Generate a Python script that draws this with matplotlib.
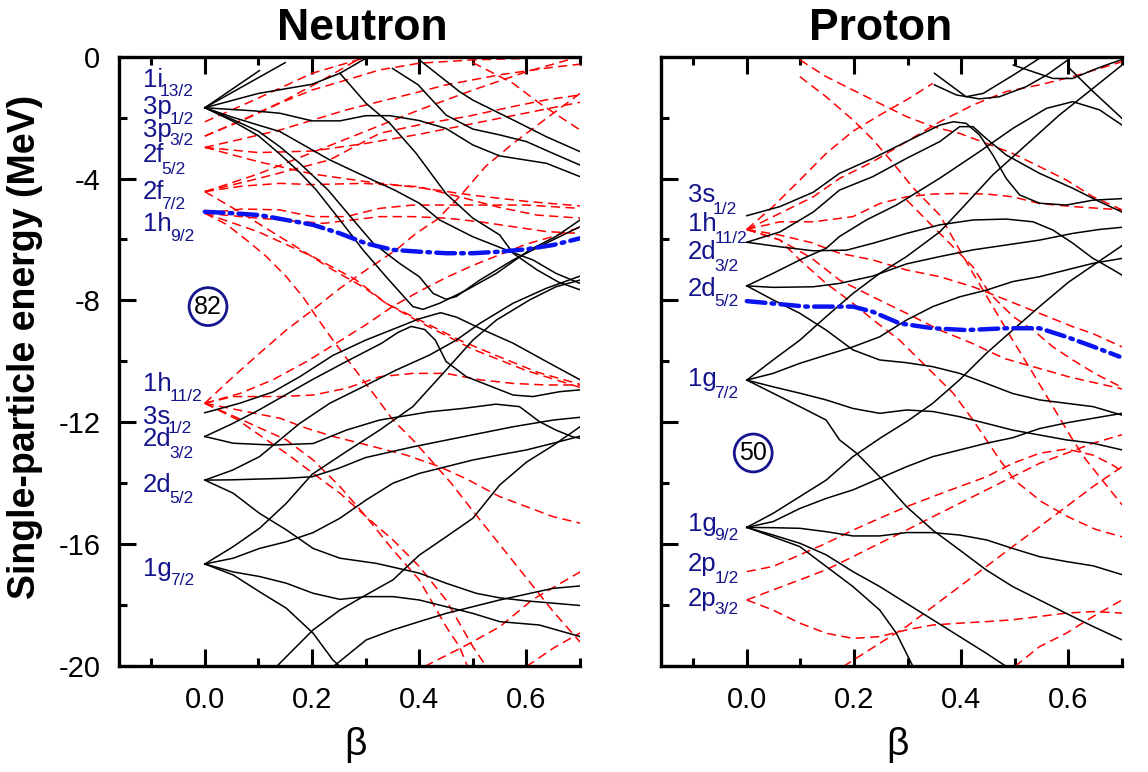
import matplotlib
matplotlib.use('Agg')
import matplotlib.pyplot as plt

plt.rcParams['font.family'] = ['Liberation Sans', 'DejaVu Sans']

NAVY = '#14148c'

# ---------------- neutron, positive parity (black) ----------------
n_pos = [
    [(0, -1.68), (0.102, -0.46)],
    [(0, -1.68), (0.15, -0.2)],
    [(0, -1.68), (0.1, -1.21), (0.2, -0.91), (0.252, -0.55), (0.3, -0.06)],
    [(0.252, -0.55), (0.301, -1.54), (0.345, -2.19), (0.394, -3.17), (0.45, -4.5), (0.5, -5.3),
     (0.55, -5.85), (0.575, -6.45), (0.62, -7.0), (0.66, -7.4), (0.7, -7.65)],
    [(0, -1.68), (0.09, -1.78), (0.14, -1.86), (0.2, -2.11), (0.252, -2.11), (0.3, -1.94), (0.345, -1.94),
     (0.4, -2.1), (0.45, -2.36), (0.5, -2.9), (0.55, -3.26), (0.637, -3.5), (0.7, -3.94)],
    [(0.35, -0.39), (0.398, -0.93), (0.45, -1.92), (0.5, -2.38), (0.55, -2.57), (0.6, -2.79),
     (0.65, -3.18), (0.7, -3.56)],
    [(0.4, -0.11), (0.475, -1.15), (0.5, -1.43), (0.575, -2.08), (0.637, -2.63), (0.7, -3.12)],
    [(0, -1.68), (0.05, -1.98), (0.1, -2.25), (0.14, -2.46), (0.233, -3.39), (0.313, -4.05), (0.354, -4.38),
     (0.4, -4.81), (0.438, -5.36), (0.5, -5.91), (0.575, -6.43), (0.612, -6.67), (0.655, -7.11), (0.7, -7.44)],
    [(0, -1.68), (0.05, -2.1), (0.1, -2.6), (0.14, -3.2), (0.177, -3.8), (0.208, -4.38), (0.252, -5.36),
     (0.295, -6.34), (0.338, -7.22), (0.388, -8.2), (0.407, -8.29), (0.438, -8.09), (0.488, -7.66),
     (0.544, -7.11), (0.606, -6.34), (0.655, -5.9), (0.7, -5.36)],
    [(0, -1.68), (0.05, -2.05), (0.1, -2.45), (0.14, -2.96), (0.177, -3.5), (0.23, -4.38), (0.277, -5.36),
     (0.314, -6.12), (0.363, -6.78), (0.4, -7.22), (0.426, -7.77), (0.45, -7.96), (0.469, -7.87),
     (0.513, -7.33), (0.575, -6.67), (0.637, -6.12), (0.7, -5.58)],
    [(0, -11.68), (0.065, -11.37), (0.127, -11.0), (0.177, -10.5), (0.239, -9.8), (0.3, -9.3), (0.35, -8.95),
     (0.4, -8.6), (0.44, -8.4), (0.47, -8.55), (0.52, -8.97), (0.575, -9.4), (0.637, -10.0), (0.7, -10.6)],
    [(0, -12.46), (0.05, -12.05), (0.1, -11.6), (0.14, -11.2), (0.2, -10.6), (0.264, -10.0), (0.33, -9.4),
     (0.36, -9.05), (0.385, -8.85), (0.41, -8.95), (0.43, -9.3), (0.45, -10.0), (0.488, -10.5),
     (0.575, -11.1), (0.612, -11.15), (0.662, -10.99), (0.7, -10.93)],
    [(0, -12.46), (0.053, -12.68), (0.127, -12.74), (0.202, -12.69), (0.264, -12.25), (0.326, -11.92),
     (0.419, -11.65), (0.481, -11.54), (0.543, -11.4), (0.587, -11.48), (0.624, -11.97), (0.655, -12.25),
     (0.686, -12.47), (0.7, -12.52)],
    [(0, -13.89), (0.05, -13.88), (0.15, -13.83), (0.2, -13.78), (0.25, -13.5), (0.3, -13.15), (0.388, -12.8),
     (0.481, -12.47), (0.575, -12.14), (0.65, -11.92), (0.7, -11.83)],
    [(0, -13.89), (0.052, -13.56), (0.102, -13.12), (0.14, -12.57), (0.177, -12.03), (0.233, -11.37),
     (0.295, -10.83), (0.357, -10.28), (0.419, -9.79), (0.469, -9.3), (0.513, -8.75), (0.575, -8.09),
     (0.637, -7.6), (0.7, -7.2)],
    [(0, -13.89), (0.053, -14.32), (0.102, -14.98), (0.152, -15.52), (0.202, -16.13), (0.252, -16.45),
     (0.32, -16.62), (0.4, -16.94), (0.45, -17.27), (0.506, -17.6), (0.55, -17.75), (0.6, -17.85), (0.7, -18.0)],
    [(0, -16.64), (0.053, -16.07), (0.102, -15.47), (0.152, -14.65), (0.2, -13.7), (0.26, -13.0),
     (0.326, -12.25), (0.388, -11.48), (0.45, -10.28), (0.5, -9.3), (0.544, -8.64), (0.606, -7.98),
     (0.655, -7.55), (0.7, -7.33)],
    [(0, -16.64), (0.053, -16.45), (0.102, -16.13), (0.152, -15.91), (0.202, -15.61), (0.252, -15.14),
     (0.301, -14.54), (0.351, -13.99), (0.4, -13.67), (0.45, -13.45), (0.5, -13.23), (0.55, -13.06),
     (0.6, -12.9), (0.65, -12.68), (0.7, -12.45)],
    [(0, -16.64), (0.053, -16.9), (0.102, -17.05), (0.152, -17.27), (0.202, -17.6), (0.252, -17.8),
     (0.301, -17.71), (0.351, -17.71), (0.4, -17.82), (0.45, -18.04), (0.5, -18.26), (0.55, -18.53),
     (0.624, -18.64), (0.7, -19.02)],
    [(0, -16.64), (0.053, -17.0), (0.102, -17.55), (0.152, -18.09), (0.202, -18.91), (0.239, -19.79), (0.252, -20.0)],
    [(0.134, -20), (0.152, -19.68), (0.202, -18.8), (0.252, -18.15), (0.295, -17.71), (0.351, -17.16),
     (0.4, -16.35), (0.45, -15.75), (0.5, -15.14), (0.55, -14.05), (0.6, -13.3), (0.65, -12.75), (0.7, -12.14)],
    [(0.24, -20), (0.301, -19.13), (0.351, -18.8), (0.4, -18.53), (0.45, -18.26), (0.5, -18.04),
     (0.55, -17.82), (0.649, -17.44), (0.7, -17.36)],
]

# ---------------- neutron, negative parity (red dashed) ----------------
n_neg = [
    [(0, -2.14), (0.07, -1.6), (0.14, -1.04), (0.2, -0.55), (0.295, -0.06)],
    [(0, -2.61), (0.08, -2.0), (0.15, -1.43), (0.22, -0.77), (0.295, 0.0)],
    [(0, -2.61), (0.07, -2.1), (0.14, -1.53), (0.2, -1.1), (0.264, -0.77), (0.326, -0.44), (0.4, -0.22),
     (0.5, -0.11), (0.6, -0.06), (0.7, 0.0)],
    [(0, -2.98), (0.07, -2.7), (0.14, -2.41), (0.264, -1.75), (0.388, -1.21), (0.45, -0.93), (0.55, -0.6),
     (0.65, -0.35), (0.7, -0.25)],
    [(0, -2.98), (0.1, -3.15), (0.2, -3.1), (0.3, -2.85), (0.4, -2.55), (0.5, -2.2), (0.6, -1.85), (0.7, -1.5)],
    [(0, -2.98), (0.1, -3.45), (0.2, -3.85), (0.3, -4.1), (0.4, -4.3), (0.5, -4.55), (0.6, -4.75), (0.7, -4.9)],
    [(0, -4.43), (0.1, -3.85), (0.2, -3.15), (0.3, -2.45), (0.4, -1.75), (0.5, -1.1), (0.6, -0.5), (0.7, 0.0)],
    [(0, -4.43), (0.1, -4.0), (0.233, -3.39), (0.326, -2.52), (0.413, -2.19), (0.488, -1.97), (0.575, -1.64),
     (0.637, -1.42), (0.7, -1.26)],
    [(0, -4.43), (0.07, -4.25), (0.14, -4.16), (0.2, -4.2), (0.295, -4.16), (0.4, -4.27), (0.475, -4.6),
     (0.55, -4.95), (0.62, -5.2), (0.7, -5.3)],
    [(0, -4.43), (0.07, -5.15), (0.14, -5.91), (0.19, -6.45), (0.239, -7.0), (0.295, -7.55), (0.338, -8.09),
     (0.388, -8.53), (0.438, -8.97), (0.475, -9.3), (0.55, -9.85), (0.62, -10.35), (0.7, -10.75)],
    [(0, -5.14), (0.07, -5.0), (0.14, -5.03), (0.2, -5.25), (0.264, -5.25), (0.326, -4.98), (0.388, -4.87),
     (0.5, -4.87), (0.6, -4.87), (0.7, -4.98)],
    [(0, -5.14), (0.1, -5.3), (0.221, -5.47), (0.276, -5.36), (0.326, -5.25), (0.388, -5.25), (0.45, -5.3),
     (0.513, -5.42), (0.575, -5.58), (0.637, -5.74), (0.7, -5.8)],
    [(0, -5.14), (0.04, -5.5), (0.078, -6.02), (0.115, -6.56), (0.152, -7.22), (0.183, -7.88), (0.208, -8.53),
     (0.239, -9.3), (0.276, -10.17), (0.314, -11.04), (0.351, -11.92), (0.388, -12.57), (0.425, -13.3),
     (0.46, -14.0), (0.5, -14.9), (0.55, -16.0), (0.6, -17.1), (0.65, -18.2), (0.7, -19.2)],
    [(0, -5.14), (0.1, -5.75), (0.2, -6.55), (0.28, -7.3), (0.339, -8.1), (0.4, -8.7), (0.5, -9.6),
     (0.6, -10.3), (0.7, -10.85)],
    [(0.5, -0.2), (0.575, -0.88), (0.624, -1.53), (0.7, -2.41)],
    [(0, -11.37), (0.053, -10.5), (0.102, -9.73), (0.152, -8.97), (0.202, -8.3), (0.252, -7.6), (0.301, -7.0),
     (0.357, -6.34), (0.394, -5.8), (0.432, -5.36), (0.475, -4.6), (0.524, -3.6), (0.575, -2.85),
     (0.65, -1.86), (0.7, -1.21)],
    [(0, -11.37), (0.065, -11.05), (0.127, -10.6), (0.19, -10.0), (0.25, -9.35), (0.3, -8.8), (0.35, -8.2),
     (0.4, -7.7), (0.45, -7.25), (0.5, -6.85), (0.55, -6.5), (0.6, -6.15), (0.65, -5.9), (0.7, -5.6)],
    [(0, -11.37), (0.053, -11.15), (0.14, -11.15), (0.202, -11.1), (0.264, -10.88), (0.326, -10.5),
     (0.388, -10.39), (0.45, -10.39), (0.513, -10.6), (0.575, -10.72), (0.637, -10.77), (0.7, -10.77)],
    [(0, -11.37), (0.065, -11.6), (0.14, -11.86), (0.19, -12.19), (0.24, -12.46), (0.314, -12.79),
     (0.376, -13.07), (0.438, -13.45), (0.488, -13.85), (0.55, -14.43), (0.6, -14.76), (0.65, -15.09), (0.7, -15.3)],
    [(0, -11.37), (0.06, -11.9), (0.115, -12.57), (0.152, -13.01), (0.202, -13.67), (0.252, -14.32),
     (0.301, -15.09), (0.351, -15.85), (0.4, -16.72), (0.45, -17.82), (0.5, -19.35), (0.525, -20)],
    [(0, -11.37), (0.08, -12.0), (0.152, -12.57), (0.202, -13.23), (0.252, -14.1), (0.301, -15.09),
     (0.351, -16.18), (0.4, -17.16), (0.45, -18.69), (0.475, -19.35), (0.49, -20)],
    [(0.41, -20), (0.488, -19.3), (0.55, -18.7), (0.612, -17.8), (0.7, -16.9)],
    [(0.6, -20), (0.65, -19.4), (0.7, -18.9)],
]

n_blue = [(0, -5.09), (0.053, -5.14), (0.102, -5.2), (0.152, -5.36), (0.202, -5.52), (0.252, -5.8),
          (0.301, -6.13), (0.351, -6.34), (0.4, -6.4), (0.45, -6.45), (0.5, -6.45), (0.55, -6.4),
          (0.6, -6.32), (0.65, -6.18), (0.7, -5.96)]

# ---------------- proton, positive parity (black) ----------------
p_pos = [
    [(0, -5.22), (0.062, -4.92), (0.124, -4.45), (0.173, -3.83), (0.235, -3.34), (0.298, -2.79), (0.36, -2.25),
     (0.385, -2.14), (0.409, -2.19), (0.434, -2.57), (0.459, -3.23), (0.484, -4.0), (0.509, -4.54),
     (0.546, -4.81), (0.596, -4.87), (0.646, -4.71), (0.7, -4.66)],
    [(0, -6.09), (0.062, -5.75), (0.124, -5.1), (0.173, -4.38), (0.235, -3.94), (0.298, -3.34), (0.36, -2.79),
     (0.397, -2.3), (0.422, -2.3), (0.446, -2.68), (0.484, -3.23), (0.546, -3.83), (0.608, -4.32),
     (0.658, -4.76), (0.7, -5.1)],
    [(0, -6.09), (0.062, -6.24), (0.124, -6.37), (0.186, -6.35), (0.236, -6.12), (0.298, -5.8), (0.36, -5.52),
     (0.422, -5.36), (0.484, -5.33), (0.534, -5.42), (0.571, -5.69), (0.608, -6.12), (0.645, -6.61),
     (0.683, -6.99), (0.7, -7.17)],
    [(0, -7.52), (0.049, -7.57), (0.124, -7.55), (0.173, -7.44), (0.235, -7.2), (0.298, -6.8), (0.36, -6.56),
     (0.422, -6.34), (0.484, -6.18), (0.546, -6.02), (0.608, -5.8), (0.658, -5.67), (0.7, -5.6)],
    [(0, -7.52), (0.049, -7.11), (0.099, -6.67), (0.148, -6.29), (0.173, -5.9), (0.223, -5.36), (0.279, -4.87),
     (0.36, -3.99), (0.434, -3.12), (0.497, -2.35), (0.559, -1.7), (0.608, -1.48), (0.658, -1.75), (0.7, -2.25)],
    [(0, -7.52), (0.049, -7.98), (0.099, -8.42), (0.148, -8.97), (0.198, -9.62), (0.248, -9.95), (0.298, -10.04),
     (0.347, -10.17), (0.397, -10.39), (0.447, -10.72), (0.496, -11.05), (0.546, -11.26), (0.596, -11.37),
     (0.646, -11.48), (0.7, -11.76)],
    [(0, -10.61), (0.049, -9.95), (0.099, -9.3), (0.148, -8.53), (0.198, -7.77), (0.248, -7.11), (0.298, -6.56),
     (0.36, -5.75), (0.4, -5.0), (0.459, -3.88), (0.521, -2.9), (0.583, -1.92), (0.646, -1.04), (0.7, -0.28)],
    [(0, -10.61), (0.049, -10.39), (0.099, -10.06), (0.148, -9.79), (0.198, -9.52), (0.248, -9.19),
     (0.298, -8.64), (0.347, -8.2), (0.397, -7.88), (0.447, -7.66), (0.496, -7.38), (0.546, -7.22),
     (0.596, -7.0), (0.646, -6.78), (0.7, -6.62)],
    [(0, -10.61), (0.049, -10.83), (0.099, -11.04), (0.148, -11.26), (0.198, -11.54), (0.248, -11.7),
     (0.298, -11.59), (0.347, -11.64), (0.397, -11.81), (0.447, -12.03), (0.496, -12.25), (0.546, -12.41),
     (0.596, -12.57), (0.646, -12.68), (0.7, -12.9)],
    [(0, -10.61), (0.049, -11.04), (0.099, -11.48), (0.148, -11.92), (0.173, -12.57), (0.205, -13.01),
     (0.248, -13.78), (0.298, -14.76), (0.347, -15.53), (0.397, -16.18), (0.447, -16.84), (0.496, -17.38),
     (0.546, -17.82), (0.596, -18.26), (0.646, -18.69), (0.7, -19.13)],
    [(0, -15.44), (0.049, -14.98), (0.099, -14.43), (0.148, -13.89), (0.198, -13.12), (0.25, -12.5),
     (0.3, -11.95), (0.347, -11.37), (0.397, -10.6), (0.447, -9.73), (0.496, -8.97), (0.546, -8.2),
     (0.6, -7.4), (0.65, -6.8), (0.7, -6.2)],
    [(0, -15.44), (0.049, -15.25), (0.099, -14.82), (0.148, -14.49), (0.198, -14.21), (0.248, -13.83),
     (0.298, -13.45), (0.347, -13.12), (0.397, -12.9), (0.447, -12.68), (0.496, -12.5), (0.546, -12.2),
     (0.6, -12.0), (0.7, -11.7)],
    [(0, -15.44), (0.049, -15.45), (0.099, -15.47), (0.148, -15.58), (0.198, -15.72), (0.248, -15.72),
     (0.298, -15.61), (0.347, -15.61), (0.397, -15.69), (0.447, -15.85), (0.496, -16.13), (0.546, -16.4),
     (0.596, -16.56), (0.646, -16.7), (0.7, -16.99)],
    [(0, -15.44), (0.049, -15.69), (0.099, -15.96), (0.148, -16.34), (0.198, -16.89), (0.248, -17.38),
     (0.298, -17.93), (0.347, -18.47), (0.397, -19.02), (0.447, -19.57), (0.484, -20.0)],
    [(0, -15.44), (0.049, -15.75), (0.099, -16.07), (0.148, -16.72), (0.198, -17.38), (0.248, -18.15),
     (0.279, -18.91), (0.304, -19.79), (0.31, -20.0)],
    [(0.35, -0.55), (0.409, -1.32), (0.441, -1.21), (0.497, -0.61), (0.546, -0.06)],
    [(0.35, -0.93), (0.391, -1.26), (0.434, -1.39), (0.471, -1.32), (0.521, -0.99), (0.56, -0.6), (0.6, -0.1)],
    [(0.497, -0.28), (0.571, -0.72), (0.608, -0.72), (0.646, -0.44), (0.67, -0.28), (0.7, -0.1)],
    [(0.602, -0.39), (0.646, -1.15), (0.7, -2.03)],
]

# ---------------- proton, negative parity (red dashed) ----------------
p_neg = [
    [(0, -5.67), (0.049, -4.92), (0.099, -4.05), (0.148, -3.18), (0.198, -2.45), (0.25, -1.9), (0.3, -1.4),
     (0.347, -0.88)],
    [(0, -5.67), (0.062, -5.14), (0.124, -4.6), (0.173, -4.0), (0.235, -3.45), (0.298, -2.79), (0.36, -2.14),
     (0.422, -1.59), (0.484, -1.15), (0.546, -0.93), (0.608, -0.66), (0.7, -0.17)],
    [(0, -5.67), (0.062, -5.42), (0.124, -5.42), (0.198, -5.25), (0.248, -4.82), (0.298, -4.6), (0.347, -4.51),
     (0.397, -4.49), (0.447, -4.51), (0.496, -4.6), (0.546, -4.82), (0.608, -4.92), (0.7, -5.03)],
    [(0, -5.67), (0.06, -5.85), (0.12, -6.1), (0.173, -6.45), (0.235, -6.67), (0.298, -7.0), (0.36, -7.22),
     (0.422, -7.55), (0.484, -7.98), (0.546, -8.42), (0.608, -8.86), (0.645, -9.08), (0.7, -9.52)],
    [(0, -5.67), (0.06, -6.0), (0.12, -6.6), (0.173, -7.33), (0.235, -7.88), (0.298, -8.42), (0.36, -8.97),
     (0.42, -9.4), (0.48, -9.9), (0.54, -10.2), (0.6, -10.5), (0.65, -10.7), (0.7, -10.9)],
    [(0, -5.67), (0.062, -6.02), (0.099, -6.67), (0.148, -7.44), (0.198, -8.09), (0.236, -8.64), (0.285, -9.3),
     (0.335, -10.17), (0.385, -11.04), (0.422, -11.92), (0.447, -12.57), (0.472, -13.23), (0.5, -13.9),
     (0.55, -14.6), (0.6, -15.1), (0.65, -15.5), (0.7, -15.75)],
    [(0.099, -0.11), (0.148, -0.66), (0.198, -1.1), (0.248, -1.54), (0.298, -1.97), (0.347, -2.3), (0.397, -2.52),
     (0.447, -2.85), (0.496, -3.18), (0.546, -3.61), (0.596, -4.05), (0.646, -4.6), (0.7, -5.03)],
    [(0.099, -0.66), (0.148, -1.32), (0.198, -2.08), (0.236, -2.74), (0.273, -3.5), (0.31, -4.3), (0.36, -5.2),
     (0.422, -7.11), (0.459, -8.2), (0.496, -9.3), (0.534, -10.39), (0.571, -11.48), (0.608, -12.57),
     (0.633, -13.23), (0.7, -14.7)],
    [(0.298, -4.7), (0.36, -5.8), (0.422, -6.9), (0.453, -7.77), (0.497, -8.53), (0.534, -8.97), (0.571, -9.52),
     (0.608, -9.95), (0.65, -10.4), (0.7, -10.85)],
    [(0, -16.89), (0.049, -16.72), (0.099, -16.34), (0.148, -15.96), (0.198, -15.53), (0.248, -15.14),
     (0.298, -14.76), (0.347, -14.43), (0.397, -14.1), (0.447, -13.78), (0.496, -13.34), (0.546, -13.01),
     (0.596, -12.87), (0.646, -13.07), (0.683, -13.4), (0.7, -13.6)],
    [(0, -17.82), (0.049, -17.49), (0.099, -17.16), (0.148, -16.83), (0.198, -16.4), (0.248, -15.96),
     (0.298, -15.53), (0.347, -15.09), (0.397, -14.65), (0.447, -14.21), (0.496, -13.78), (0.546, -13.34),
     (0.596, -13.01), (0.646, -12.68), (0.7, -12.4)],
    [(0, -17.82), (0.049, -18.15), (0.099, -18.58), (0.148, -18.91), (0.198, -19.08), (0.248, -19.02),
     (0.298, -18.8), (0.347, -18.64), (0.397, -18.58), (0.447, -18.53), (0.496, -18.47), (0.546, -18.36),
     (0.596, -18.25), (0.646, -18.2), (0.7, -18.25)],
    [(0.18, -20), (0.248, -19.24), (0.298, -18.69), (0.347, -18.04), (0.397, -17.38), (0.447, -16.72),
     (0.496, -16.07), (0.546, -15.42), (0.596, -14.76), (0.646, -14.1), (0.7, -13.45)],
    [(0.5, -20), (0.546, -19.35), (0.596, -18.91), (0.646, -18.36), (0.7, -17.82)],
]

p_blue = [(0, -8.02), (0.049, -8.1), (0.111, -8.2), (0.198, -8.2), (0.235, -8.37), (0.285, -8.75),
          (0.347, -8.91), (0.409, -8.97), (0.484, -8.91), (0.546, -8.91), (0.596, -9.19), (0.646, -9.51),
          (0.695, -9.84)]

# level labels: (orbital, j, baseline of orbital, baseline of j)
n_labels = [('1i', '13/2', -1.01, -1.28), ('3p', '1/2', -1.89, -2.2), ('3p', '3/2', -2.65, -2.9),
            ('2f', '5/2', -3.47, -3.85), ('2f', '7/2', -4.68, -5.0), ('1h', '9/2', -5.73, -6.05),
            ('1h', '11/2', -10.96, -11.3), ('3s', '1/2', -12.05, -12.35), ('2d', '3/2', -12.77, -13.16),
            ('2d', '5/2', -14.29, -14.64), ('1g', '7/2', -17.03, -17.34)]
p_labels = [('3s', '1/2', -4.78, -5.17), ('1h', '11/2', -5.73, -6.12), ('2d', '3/2', -6.64, -7.03),
            ('2d', '5/2', -7.85, -8.18), ('1g', '7/2', -10.8, -11.19), ('1g', '9/2', -15.55, -15.86),
            ('2p', '1/2', -16.86, -17.26), ('2p', '3/2', -18.01, -18.28)]


def draw_panel(ax, pos, neg, blue, labels, label_x, magic, magic_x, magic_e):
    for c in neg:
        ax.plot([p[0] for p in c], [p[1] for p in c], color='red', lw=1.1, dashes=(6, 3.5))
    for c in pos:
        ax.plot([p[0] for p in c], [p[1] for p in c], color='black', lw=1.1)
    ax.plot([p[0] for p in blue], [p[1] for p in blue], color='#0a14f0', lw=3.2,
            dashes=(4.2, 1.4, 0.6, 1.4), dash_capstyle='round')
    renderer = fig.canvas.get_renderer()
    for orb, j, e1, e2 in labels:
        t = ax.text(label_x, e1, orb, color=NAVY, fontsize=18.5, ha='left', va='baseline')
        bb = t.get_window_extent(renderer=renderer)
        x_end = ax.transData.inverted().transform((bb.x1, bb.y0))[0]
        ax.text(x_end - 0.012, e2, j, color=NAVY, fontsize=12.5, ha='left', va='baseline')
    ax.text(magic_x, magic_e, magic, fontsize=18, ha='center', va='center',
            bbox=dict(boxstyle='circle,pad=0.2', fc='white', ec=NAVY, lw=2))
    ax.set_xlim(-0.16, 0.7)
    ax.set_ylim(-20, 0)
    ax.set_xticks([0.0, 0.2, 0.4, 0.6])
    ax.set_xticks([-0.1, 0.1, 0.3, 0.5, 0.7], minor=True)
    ax.set_yticks([0, -4, -8, -12, -16, -20])
    ax.set_yticks([-2, -6, -10, -14, -18], minor=True)
    ax.tick_params(which='both', direction='in', top=True, right=False, width=2.2)
    ax.tick_params(which='major', length=12)
    ax.tick_params(which='minor', length=6)
    ax.tick_params(axis='x', labelsize=21, pad=14)
    ax.tick_params(axis='y', labelsize=21, pad=13.5)
    for s in ['left', 'top', 'bottom']:
        ax.spines[s].set_linewidth(2.4)
    ax.spines['right'].set_visible(False)


fig = plt.figure(figsize=(11.48, 7.72), dpi=100)
ax1 = fig.add_axes([0.1037, 0.1367, 0.4016, 0.7901])
ax2 = fig.add_axes([0.5758, 0.1367, 0.4016, 0.7901])

draw_panel(ax1, n_pos, n_neg, n_blue, n_labels, -0.1156, '82', 0.006, -8.2)
draw_panel(ax2, p_pos, p_neg, p_blue, p_labels, -0.1105, '50', 0.012, -13.0)

ax1.set_xticklabels(['0.0', '0.2', '0.4', '0.6'])
ax2.set_xticklabels(['0.0', '0.2', '0.4', '0.6'])
ax1.set_yticklabels(['0', '-4', '-8', '-12', '-16', '-20'])
ax2.set_yticklabels([])

# titles, axis labels
fig.text(362 / 1148, 1 - 40 / 772, 'Neutron', fontsize=32, fontweight='bold', ha='center', va='baseline')
fig.text(881 / 1148, 1 - 40 / 772, 'Proton', fontsize=32, fontweight='bold', ha='center', va='baseline')
fig.text(355 / 1148, 1 - 745 / 772, '\u03b2', fontsize=28, ha='center', va='center')
fig.text(897 / 1148, 1 - 745 / 772, '\u03b2', fontsize=28, ha='center', va='center')
fig.text(25 / 1148, 1 - 347 / 772, 'Single-particle energy (MeV)', fontsize=27, fontweight='bold',
         rotation=90, ha='center', va='center')

fig.savefig('out.png', dpi=100)
